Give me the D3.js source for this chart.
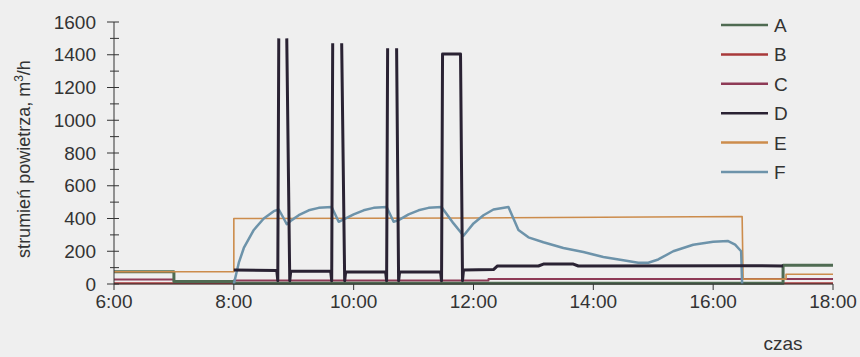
<!DOCTYPE html>
<html>
<head>
<meta charset="utf-8">
<script src="https://cdn.jsdelivr.net/npm/d3@7"></script>
<style>
  body { margin: 0; background: #efefef; }
  svg { display: block; font-family: "Liberation Sans", Arial, sans-serif; }
</style>
</head>
<body>
<script>
// air flow in a building over one day, six series A-F

// tick labels
let xTicks = ["6:00", "8:00", "10:00", "12:00", "14:00", "16:00", "18:00"];
let yTicks = [0, 200, 400, 600, 800, 1000, 1200, 1400, 1600];
let seriesNames = ["A", "B", "C", "D", "E", "F"];

// series values as [time, value]; null breaks the line
let seriesA = [["6:00", 75], ["7:00", 75], ["7:00", 15], ["8:00", 15], ["8:00", 4],
  ["17:10", 4], ["17:10", 115], ["18:00", 115]];
let seriesB = [["6:00", 4], ["18:00", 4]];
let seriesC = [["6:00", 28], ["7:00", 28], ["7:00", 12], ["8:00", 12], ["8:00", 22],
  ["12:15", 22], ["12:15", 30], ["18:00", 30]];
let seriesD = [["8:00", 85], ["8:43", 82], ["8:44", 20], ["8:45", 1500], ["8:49", null],
  ["8:53", 1500], ["8:56", 20], ["8:57", 80], ["9:37", 78], ["9:38", 20], ["9:39", 1470],
  ["9:44", null], ["9:48", 1470], ["9:51", 20], ["9:52", 75], ["10:32", 73], ["10:33", 20],
  ["10:34", 1440], ["10:38", null], ["10:43", 1440], ["10:45", 20], ["10:46", 73],
  ["11:27", 75], ["11:28", 20], ["11:29", 1405], ["11:47", 1405], ["11:49", 20],
  ["11:50", 85], ["12:20", 88], ["12:24", 110], ["13:05", 110], ["13:10", 122],
  ["13:40", 122], ["13:45", 110], ["16:30", 112], ["17:10", 110]];
let seriesE = [["6:00", 75], ["8:00", 75], ["8:00", 400], ["12:00", 403], ["16:29", 412],
  ["16:30", 30], ["17:13", 30], ["17:13", 60], ["18:00", 60]];
let seriesF = [["8:00", 0], ["8:05", 130], ["8:10", 220], ["8:20", 330], ["8:30", 400],
  ["8:40", 445], ["8:45", 455], ["8:50", 400], ["8:53", 365], ["8:58", 390], ["9:05", 420],
  ["9:15", 450], ["9:25", 465], ["9:38", 470], ["9:45", 380], ["9:50", 395], ["10:00", 425],
  ["10:10", 450], ["10:20", 465], ["10:33", 470], ["10:40", 380], ["10:45", 390],
  ["10:55", 425], ["11:05", 450], ["11:15", 465], ["11:28", 470], ["11:40", 370],
  ["11:50", 295], ["12:00", 370], ["12:10", 420], ["12:20", 455], ["12:35", 470],
  ["12:40", 400], ["12:45", 330], ["12:55", 285], ["13:10", 255], ["13:30", 220],
  ["13:50", 195], ["14:10", 165], ["14:30", 145], ["14:45", 130], ["14:55", 130],
  ["15:05", 150], ["15:20", 200], ["15:40", 240], ["16:00", 258], ["16:15", 262],
  ["16:22", 240], ["16:28", 200], ["16:29", 0]];

let allSeries = [seriesA, seriesB, seriesC, seriesD, seriesE, seriesF];
let colors = ["#4f6b52", "#a8393a", "#8e3a56", "#2a2233", "#cc8c4c", "#6d93aa"];
let widths = [3, 2, 2, 3, 1.6, 2.5];
// draw order: bottom to top
let drawOrder = [1, 2, 0, 4, 5, 3];

let width = 860;
let height = 357;

let svg = d3.select("body").append("svg")
  .attr("width", width)
  .attr("height", height);

function toMin(t) {
  let p = t.split(":");
  return +p[0] * 60 + +p[1];
}

let x = d3.scaleLinear()
  .domain([360, 1080])
  .range([114, 833]);

let y = d3.scaleLinear()
  .domain([0, 1600])
  .range([284, 22]);

// lines
let line = d3.line()
  .defined(d => d[1] !== null)
  .x(d => x(toMin(d[0])))
  .y(d => y(d[1]));

drawOrder.forEach(function (i) {
  svg.append("path")
    .datum(allSeries[i])
    .attr("fill", "none")
    .attr("stroke", colors[i])
    .attr("stroke-width", widths[i])
    .attr("stroke-linejoin", "round")
    .attr("d", line);
});

// y axis with cross ticks
let yAxisG = svg.append("g").attr("stroke", "#333");
yAxisG.append("line")
  .attr("x1", x(360)).attr("x2", x(360))
  .attr("y1", y(1600)).attr("y2", y(0));
yAxisG.selectAll(".ymin")
  .data(d3.range(0, 1601, 100))
  .join("line")
  .attr("x1", d => d % 200 === 0 ? x(360) - 7 : x(360) - 4)
  .attr("x2", x(360) + 5)
  .attr("y1", d => y(d)).attr("y2", d => y(d));

svg.selectAll(".ylab")
  .data(yTicks)
  .join("text")
  .attr("x", 96)
  .attr("y", d => y(d) + 6.5)
  .attr("text-anchor", "end")
  .attr("font-size", 19)
  .attr("fill", "#333")
  .text(d => d);

// x axis
let xAxisG = svg.append("g").attr("stroke", "#333");
xAxisG.append("line")
  .attr("x1", x(360)).attr("x2", x(1080))
  .attr("y1", y(0)).attr("y2", y(0));
xAxisG.selectAll(".xt")
  .data(xTicks)
  .join("line")
  .attr("x1", d => x(toMin(d))).attr("x2", d => x(toMin(d)))
  .attr("y1", y(0)).attr("y2", y(0) + 6);

svg.selectAll(".xlab")
  .data(xTicks)
  .join("text")
  .attr("x", d => x(toMin(d)))
  .attr("y", 308)
  .attr("text-anchor", "middle")
  .attr("font-size", 19)
  .attr("fill", "#333")
  .text(d => d);

// axis titles
svg.append("text")
  .attr("transform", "translate(30,159) rotate(-90)")
  .attr("text-anchor", "middle")
  .attr("font-size", 18)
  .attr("fill", "#333")
  .html("strumień powietrza, m<tspan dy='-7' font-size='12'>3</tspan><tspan dy='7'>/h</tspan>");

svg.append("text")
  .attr("x", 783)
  .attr("y", 350)
  .attr("text-anchor", "middle")
  .attr("font-size", 19)
  .attr("fill", "#333")
  .text("czas");

// legend
let legend = svg.selectAll(".legend")
  .data(seriesNames)
  .join("g")
  .attr("transform", (d, i) => `translate(721, ${25 + i * 29.4})`);

legend.append("line")
  .attr("x1", 0).attr("x2", 47)
  .attr("stroke", (d, i) => colors[i])
  .attr("stroke-width", 2.5);

legend.append("text")
  .attr("x", 53)
  .attr("y", 7)
  .attr("font-size", 19)
  .attr("fill", "#333")
  .text(d => d);
</script>
</body>
</html>
